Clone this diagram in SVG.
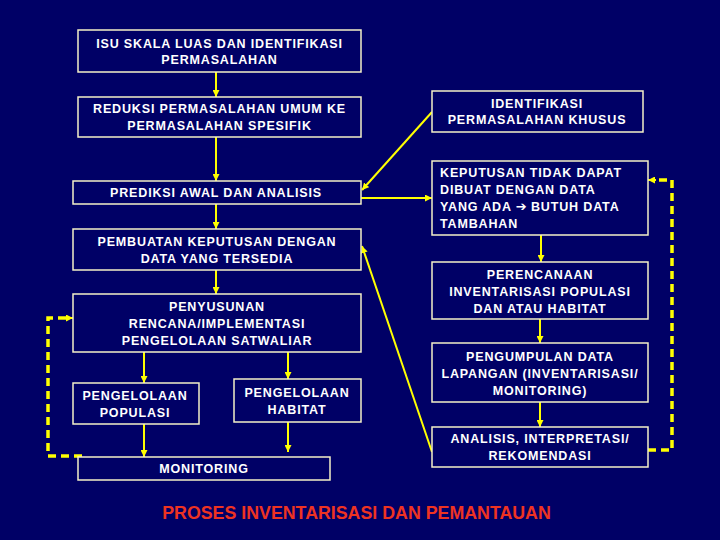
<svg xmlns="http://www.w3.org/2000/svg" width="720" height="540" viewBox="0 0 720 540">
<defs>
<marker id="ah" viewBox="0 0 10 10" refX="10" refY="5" markerWidth="7" markerHeight="7" markerUnits="userSpaceOnUse" orient="auto">
<path d="M0,0 L10,5 L0,10 z" fill="#ffff00"/>
</marker>
<style>
.box{fill:#000066;stroke:#f4f0c8;stroke-width:1.5}
.t{font-family:"Liberation Sans",Arial,sans-serif;font-weight:bold;font-size:12.5px;fill:#ffffff;letter-spacing:0.85px;text-anchor:middle}
.tl{text-anchor:start}
.arr{font-family:"DejaVu Sans",sans-serif;font-size:13px;letter-spacing:0}
.c{stroke:#ffff00;stroke-width:2;fill:none}
.d{stroke:#ffff00;stroke-width:3.5;fill:none;stroke-dasharray:8,5}
.title{font-family:"Liberation Sans",Arial,sans-serif;font-weight:bold;font-size:17.8px;fill:#ee3322;text-anchor:middle}
</style>
</defs>
<rect width="720" height="540" fill="#000066"/>
<g id="connectors">
<line class="c" x1="216" y1="72" x2="216" y2="97" marker-end="url(#ah)"/>
<line class="c" x1="216" y1="137" x2="216" y2="181" marker-end="url(#ah)"/>
<line class="c" x1="216" y1="204" x2="216" y2="229" marker-end="url(#ah)"/>
<line class="c" x1="216" y1="270" x2="216" y2="294" marker-end="url(#ah)"/>
<line class="c" x1="144" y1="352" x2="144" y2="383" marker-end="url(#ah)"/>
<line class="c" x1="288" y1="352" x2="288" y2="379" marker-end="url(#ah)"/>
<line class="c" x1="144" y1="424" x2="144" y2="457" marker-end="url(#ah)"/>
<line class="c" x1="288" y1="422" x2="288" y2="452" marker-end="url(#ah)"/>
<line class="c" x1="432" y1="112" x2="362" y2="190" marker-end="url(#ah)"/>
<line class="c" x1="361" y1="198" x2="432" y2="198" marker-end="url(#ah)"/>
<line class="c" x1="432" y1="452" x2="362" y2="246" marker-end="url(#ah)"/>
<line class="c" x1="541" y1="235" x2="541" y2="262" marker-end="url(#ah)"/>
<line class="c" x1="540" y1="319" x2="540" y2="343" marker-end="url(#ah)"/>
<line class="c" x1="540" y1="402" x2="540" y2="427" marker-end="url(#ah)"/>
<path class="d" d="M648,450 H672 V180 H656"/>
<path class="c" d="M656,180 H648" marker-end="url(#ah)"/>
<path class="d" d="M82,456 H48 V318 H66"/>
<path class="c" d="M66,318 H73" marker-end="url(#ah)"/>
</g>
<g id="isu">
<rect class="box" x="78" y="30" width="283" height="42"/>
<text class="t" x="219.5" y="47.5">ISU SKALA LUAS DAN IDENTIFIKASI</text>
<text class="t" x="219.5" y="63.5">PERMASALAHAN</text>
</g>
<g id="reduksi">
<rect class="box" x="78" y="97" width="283" height="40"/>
<text class="t" x="219.5" y="112.5">REDUKSI PERMASALAHAN UMUM KE</text>
<text class="t" x="219.5" y="129.5">PERMASALAHAN SPESIFIK</text>
</g>
<g id="prediksi">
<rect class="box" x="73" y="181" width="288" height="23"/>
<text class="t" x="216" y="196.5">PREDIKSI AWAL DAN ANALISIS</text>
</g>
<g id="pembuatan">
<rect class="box" x="73" y="229" width="288" height="41"/>
<text class="t" x="217" y="245.5">PEMBUATAN KEPUTUSAN DENGAN</text>
<text class="t" x="217" y="262.5">DATA YANG TERSEDIA</text>
</g>
<g id="penyusunan">
<rect class="box" x="73" y="294" width="288" height="58"/>
<text class="t" x="217" y="310.5">PENYUSUNAN</text>
<text class="t" x="217" y="327.5">RENCANA/IMPLEMENTASI</text>
<text class="t" x="217" y="344.5">PENGELOLAAN SATWALIAR</text>
</g>
<g id="populasi">
<rect class="box" x="73" y="383" width="126" height="41"/>
<text class="t" x="135" y="399.5">PENGELOLAAN</text>
<text class="t" x="135" y="416.5">POPULASI</text>
</g>
<g id="habitat">
<rect class="box" x="234" y="379" width="127" height="43"/>
<text class="t" x="297" y="396.5">PENGELOLAAN</text>
<text class="t" x="297" y="413.5">HABITAT</text>
</g>
<g id="monitoring">
<rect class="box" x="78" y="457" width="252" height="23"/>
<text class="t" x="204" y="472.5">MONITORING</text>
</g>
<g id="identifikasi">
<rect class="box" x="432" y="91" width="211" height="41"/>
<text class="t" x="537" y="107.5">IDENTIFIKASI</text>
<text class="t" x="537" y="123.5">PERMASALAHAN KHUSUS</text>
</g>
<g id="keputusan">
<rect class="box" x="432" y="161" width="216" height="74"/>
<text class="t tl" x="440" y="176.5">KEPUTUSAN TIDAK DAPAT</text>
<text class="t tl" x="440" y="193.5">DIBUAT DENGAN DATA</text>
<text class="t tl" x="440" y="210.5">YANG ADA <tspan class="arr">➔</tspan> BUTUH DATA</text>
<text class="t tl" x="440" y="227.5">TAMBAHAN</text>
</g>
<g id="perencanaan">
<rect class="box" x="432" y="262" width="216" height="57"/>
<text class="t" x="540" y="278.5">PERENCANAAN</text>
<text class="t" x="540" y="295.5">INVENTARISASI POPULASI</text>
<text class="t" x="540" y="312.5">DAN ATAU HABITAT</text>
</g>
<g id="pengumpulan">
<rect class="box" x="432" y="343" width="216" height="59"/>
<text class="t" x="540" y="360.5">PENGUMPULAN DATA</text>
<text class="t" x="540" y="377.5">LAPANGAN (INVENTARISASI/</text>
<text class="t" x="540" y="394.5">MONITORING)</text>
</g>
<g id="analisis">
<rect class="box" x="432" y="427" width="216" height="40"/>
<text class="t" x="540" y="442.5">ANALISIS, INTERPRETASI/</text>
<text class="t" x="540" y="459.5">REKOMENDASI</text>
</g>
<text class="title" x="356.5" y="519">PROSES INVENTARISASI DAN PEMANTAUAN</text>
</svg>
